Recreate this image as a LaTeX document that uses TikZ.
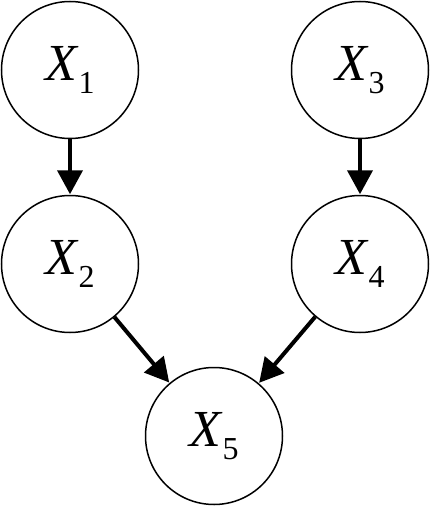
\documentclass[tikz,border=0pt]{standalone}
\usepackage{fontspec}
\setmainfont{Liberation Serif}
\usetikzlibrary{arrows.meta}
\newcommand{\vx}[1]{{\fontsize{52}{52}\selectfont\textit{X}\raisebox{-0.25em}{\fontsize{32}{32}\selectfont #1}}}
\begin{document}
\begin{tikzpicture}[x=1pt,y=-1pt,
  var/.style={circle,draw,line width=1.5pt,minimum size=137pt,inner sep=0pt},
  edge/.style={line width=4pt,-{Triangle[length=24pt,width=25pt]},shorten >=0.5pt}]
\useasboundingbox (0,0) rectangle (431,506);
\node[var] (x1) at (70,70) {\vx{1}};
\node[var] (x3) at (360,70) {\vx{3}};
\node[var] (x2) at (70,264) {\vx{2}};
\node[var] (x4) at (360,264) {\vx{4}};
\node[var] (x5) at (214,436) {\vx{5}};
\draw[edge] (x1) -- (x2);
\draw[edge] (x3) -- (x4);
\draw[edge] (x2) -- (x5);
\draw[edge] (x4) -- (x5);
\end{tikzpicture}
\end{document}
